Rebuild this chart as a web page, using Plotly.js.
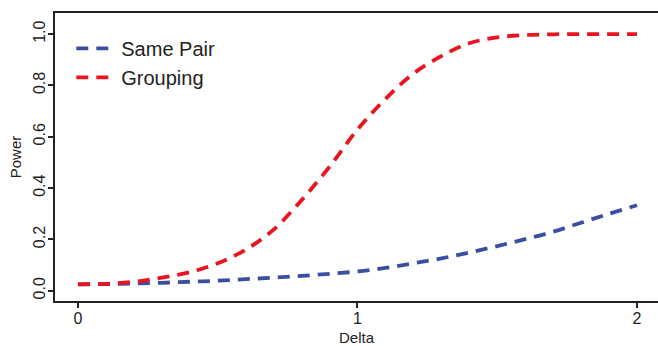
<!DOCTYPE html>
<html>
<head>
<meta charset="utf-8">
<script src="https://cdn.plot.ly/plotly-3.0.1.min.js"></script>
<style>html,body{margin:0;padding:0;background:#fff;}#chart{width:658px;height:346px;}</style>
</head>
<body>
<div id="chart"></div>
<script>
var delta = [0, 0.1, 0.2, 0.3, 0.4, 0.5, 0.6, 0.7, 0.8, 0.9, 1.0, 1.1, 1.2, 1.3, 1.4, 1.5, 1.6, 1.7, 1.8, 1.9, 2.0];
var samePair = [0.025, 0.026, 0.028, 0.031, 0.035, 0.039, 0.045, 0.051, 0.058, 0.066, 0.075, 0.089, 0.107, 0.126, 0.149, 0.174, 0.201, 0.230, 0.265, 0.300, 0.333];
var grouping = [0.025, 0.027, 0.035, 0.051, 0.072, 0.107, 0.160, 0.238, 0.353, 0.483, 0.628, 0.747, 0.846, 0.914, 0.964, 0.987, 0.996, 0.999, 1.0, 1.0, 1.0];
var seriesNames = ["Same Pair", "Grouping"];
var xTicks = [0, 1, 2];
var yTicks = [0, 0.2, 0.4, 0.6, 0.8, 1.0];
var yTickText = ["0.0", "0.2", "0.4", "0.6", "0.8", "1.0"];

var traces = [
  {x: delta, y: samePair, name: seriesNames[0], mode: "lines",
   line: {color: "#3A4FA0", width: 3.8, dash: "12px,8px", shape: "spline"}},
  {x: delta, y: grouping, name: seriesNames[1], mode: "lines",
   line: {color: "#E8141F", width: 3.8, dash: "12px,8px", shape: "spline"}}
];

var layout = {
  width: 658, height: 346,
  margin: {l: 55, r: 0, t: 13, b: 45, pad: 0},
  paper_bgcolor: "#fff", plot_bgcolor: "#fff",
  font: {family: "Liberation Sans, Arial, sans-serif", color: "#222"},
  showlegend: true,
  legend: {x: 0.027, y: 0.945, xanchor: "left", yanchor: "top",
           font: {size: 20, color: "#222"}, bgcolor: "rgba(0,0,0,0)", itemwidth: 40, tracegroupgap: 0},
  xaxis: {range: [-0.082, 2.075], tickvals: xTicks, ticktext: ["0", "1", "2"],
          showgrid: false, zeroline: false, showline: true, linecolor: "#222", linewidth: 2,
          mirror: true, ticks: "outside", ticklen: 5, tickwidth: 2, tickcolor: "#222",
          ticklabelstandoff: -3,
          tickfont: {size: 16, color: "#222"},
          title: {text: "Delta", font: {size: 15, color: "#222"}, standoff: 15}},
  yaxis: {range: [-0.04, 1.082], tickvals: yTicks, ticktext: yTickText, tickangle: -90,
          showgrid: false, zeroline: false, showline: true, linecolor: "#222", linewidth: 2,
          ticks: "outside", ticklen: 5, tickwidth: 2, tickcolor: "#222",
          ticklabelstandoff: -3,
          tickfont: {size: 16, color: "#222"},
          title: {text: "Power", font: {size: 15, color: "#222"}, standoff: 5}}
};

Plotly.newPlot("chart", traces, layout, {displayModeBar: false, staticPlot: true});
</script>
</body>
</html>
